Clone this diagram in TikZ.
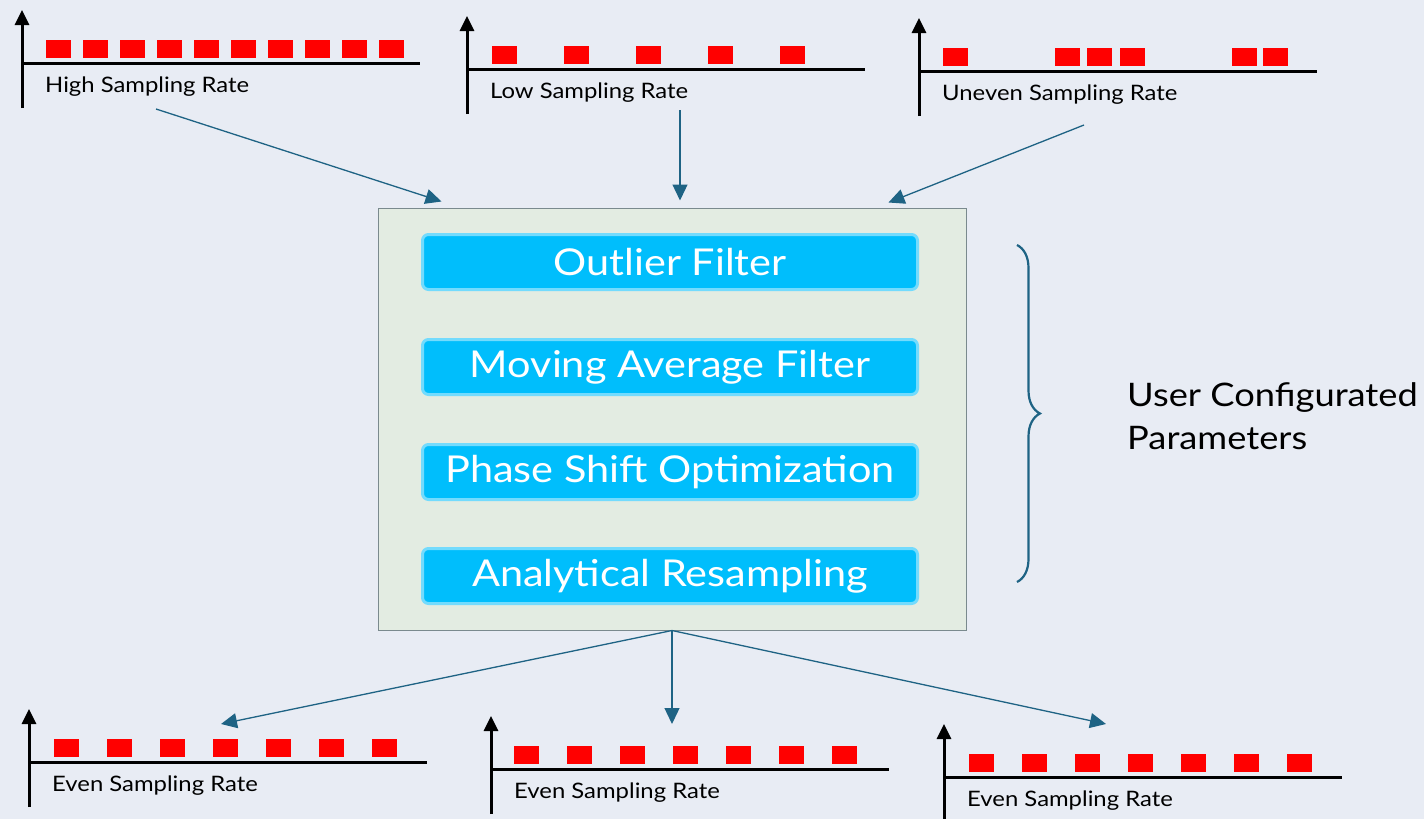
\documentclass[tikz,border=0pt]{standalone}
\usepackage{fontspec}
\setmainfont{Lato}[FakeStretch=1.12]
\usetikzlibrary{arrows.meta}
\usetikzlibrary{decorations.pathreplacing}

\definecolor{pagebg}{HTML}{E8ECF4}
\definecolor{boxfill}{HTML}{E3ECE2}
\definecolor{boxline}{HTML}{7A8A8E}
\definecolor{filterblue}{HTML}{00BEFC}
\definecolor{flowblue}{HTML}{1E6384}
\definecolor{samplered}{HTML}{FF0000}

\tikzset{
  axisline/.style={line width=3pt, black},
  sample/.style={fill=samplered},
  ratelabel/.style={anchor=base west, inner sep=0pt, font=\fontsize{21.3}{24}\selectfont},
  flow/.style={-{Triangle[length=16pt,width=15pt]}, line width=1.3pt, draw=flowblue},
  filterbox/.style={fill=filterblue, draw=filterblue!55, line width=3pt, text=white,
    minimum width=495pt, minimum height=55pt, rounded corners=6pt,
    font=\fontsize{37}{40}\selectfont},
  mainbox/.style={draw=boxline, fill=boxfill, line width=1pt,
    minimum width=588pt, minimum height=422pt},
}

% one sample chart: name, origin x, origin y, square offsets, label
\newcommand{\ratechart}[5]{
  \draw[axisline, -{Triangle[length=15pt,width=14pt]}] (#2,#3+45) -- (#2,#3-53);
  \draw[axisline] (#2,#3) -- (#2+398,#3);
  \foreach \dx in {#4} \fill[sample] (#2+\dx,#3-5) rectangle ++(25,-18);
  \node[ratelabel] (#1) at (#2+23,#3+29) {#5};
}

\begin{document}
\begin{tikzpicture}[x=1pt, y=-1pt]
\fill[pagebg] (0,0) rectangle (1424,819);
\useasboundingbox (0,0) rectangle (1424,819);

% incoming signals
\ratechart{high}{22}{63}{24,61,...,357}{High Sampling Rate}
\ratechart{low}{467}{69}{25,97,...,313}{Low Sampling Rate}
\ratechart{uneven}{919}{71}{24,136,168,201,313,344}{Uneven Sampling Rate}

% resampled signals
\ratechart{evenA}{29}{762}{25,78,...,343}{Even Sampling Rate}
\ratechart{evenB}{491}{769}{23,76,...,341}{Even Sampling Rate}
\ratechart{evenC}{944}{777}{25,78,...,343}{Even Sampling Rate}

% processing block
\node[mainbox] (proc) at (672,419) {};
\node[filterbox] (outlier) at (670,262) {Outlier Filter};
\node[filterbox] (moving) at (670,367) {Moving Average Filter};
\node[filterbox] (phase) at (670,472) {Phase Shift Optimization};
\node[filterbox] (resample) at (670,576) {Analytical Resampling};

% parameters
\draw[flowblue, line width=2.2pt, decorate, decoration={brace, amplitude=23pt}] (1017,245) -- (1017,582);
\node[anchor=west, align=left, inner sep=0pt, font=\fontsize{32.4}{43}\selectfont] (params) at (1127,416) {User Configurated\\Parameters};

% arrows in
\coordinate (highout) at (156,109);
\coordinate (lowout) at (680,110);
\coordinate (unevenout) at (1084,125);
\draw[flow] (highout) -- ([xshift=64pt,yshift=6pt]proc.north west);
\draw[flow] (lowout) -- ([xshift=8pt,yshift=7pt]proc.north);
\draw[flow] (unevenout) -- ([xshift=-78pt,yshift=5pt]proc.north east);

% arrows out
\coordinate (evenAin) at (221,724);
\coordinate (evenBin) at (672,724);
\coordinate (evenCin) at (1106,724);
\draw[flow] (proc.south) -- (evenAin);
\draw[flow] (proc.south) -- (evenBin);
\draw[flow] (proc.south) -- (evenCin);
\end{tikzpicture}
\end{document}
